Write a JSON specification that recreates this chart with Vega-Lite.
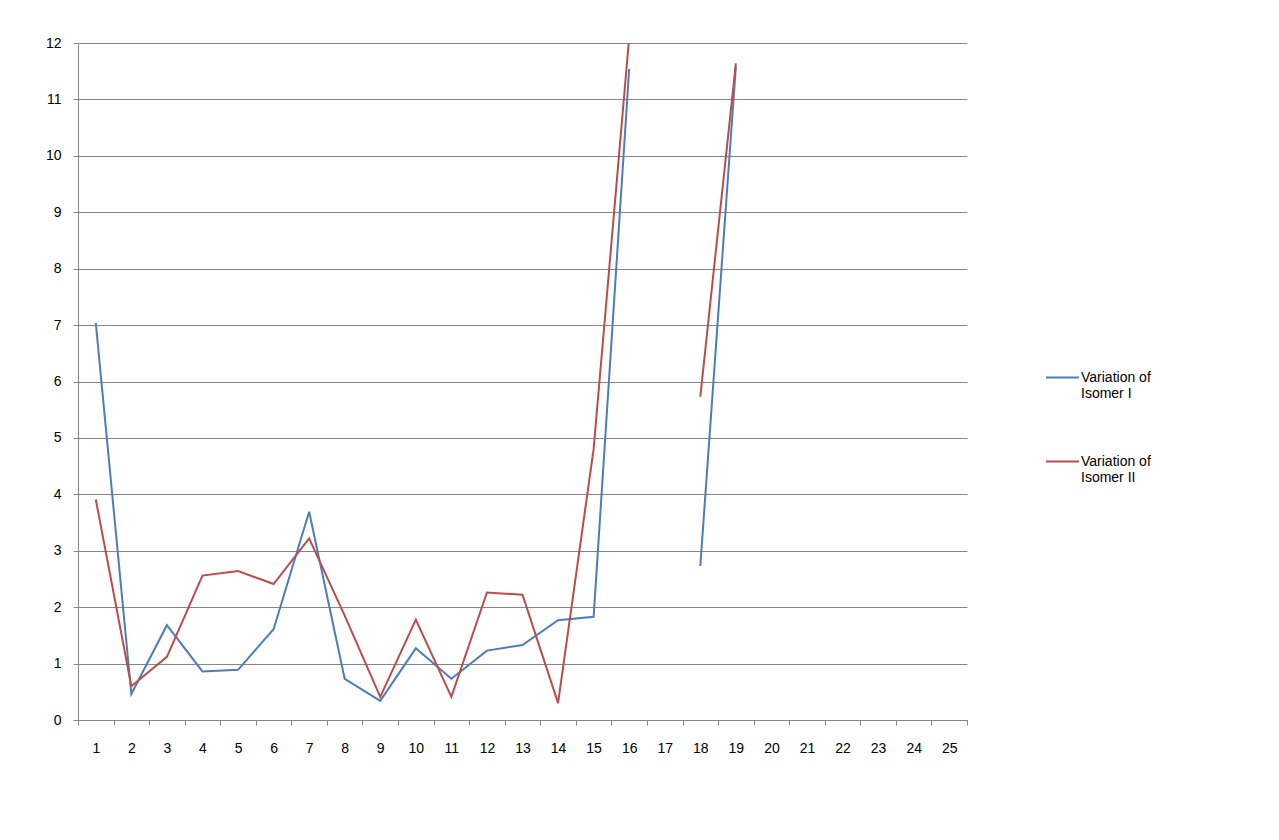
{
  "$schema": "https://vega.github.io/schema/vega-lite/v6.json",
  "width": 889,
  "height": 677,
  "autosize": {"type": "none"},
  "padding": {"left": 78, "top": 43, "right": 312, "bottom": 120},
  "background": "white",
  "config": {
    "view": {"stroke": null},
    "font": "Liberation Sans"
  },
  "data": {
    "values": [
      {"x": "1", "series": "Variation of Isomer I", "value": 7.04},
      {"x": "2", "series": "Variation of Isomer I", "value": 0.46},
      {"x": "3", "series": "Variation of Isomer I", "value": 1.68},
      {"x": "4", "series": "Variation of Isomer I", "value": 0.86},
      {"x": "5", "series": "Variation of Isomer I", "value": 0.89},
      {"x": "6", "series": "Variation of Isomer I", "value": 1.61},
      {"x": "7", "series": "Variation of Isomer I", "value": 3.69},
      {"x": "8", "series": "Variation of Isomer I", "value": 0.73},
      {"x": "9", "series": "Variation of Isomer I", "value": 0.34},
      {"x": "10", "series": "Variation of Isomer I", "value": 1.27},
      {"x": "11", "series": "Variation of Isomer I", "value": 0.73},
      {"x": "12", "series": "Variation of Isomer I", "value": 1.23},
      {"x": "13", "series": "Variation of Isomer I", "value": 1.33},
      {"x": "14", "series": "Variation of Isomer I", "value": 1.77},
      {"x": "15", "series": "Variation of Isomer I", "value": 1.83},
      {"x": "16", "series": "Variation of Isomer I", "value": 11.54},
      {"x": "17", "series": "Variation of Isomer I", "value": null},
      {"x": "18", "series": "Variation of Isomer I", "value": 2.73},
      {"x": "19", "series": "Variation of Isomer I", "value": 11.58},
      {"x": "1", "series": "Variation of Isomer II", "value": 3.91},
      {"x": "2", "series": "Variation of Isomer II", "value": 0.6},
      {"x": "3", "series": "Variation of Isomer II", "value": 1.12},
      {"x": "4", "series": "Variation of Isomer II", "value": 2.56},
      {"x": "5", "series": "Variation of Isomer II", "value": 2.64},
      {"x": "6", "series": "Variation of Isomer II", "value": 2.41},
      {"x": "7", "series": "Variation of Isomer II", "value": 3.22},
      {"x": "8", "series": "Variation of Isomer II", "value": 1.85},
      {"x": "9", "series": "Variation of Isomer II", "value": 0.41},
      {"x": "10", "series": "Variation of Isomer II", "value": 1.78},
      {"x": "11", "series": "Variation of Isomer II", "value": 0.41},
      {"x": "12", "series": "Variation of Isomer II", "value": 2.26},
      {"x": "13", "series": "Variation of Isomer II", "value": 2.22},
      {"x": "14", "series": "Variation of Isomer II", "value": 0.3},
      {"x": "15", "series": "Variation of Isomer II", "value": 4.8},
      {"x": "16", "series": "Variation of Isomer II", "value": 12.1},
      {"x": "17", "series": "Variation of Isomer II", "value": null},
      {"x": "18", "series": "Variation of Isomer II", "value": 5.73},
      {"x": "19", "series": "Variation of Isomer II", "value": 11.64}
    ]
  },
  "mark": {"type": "line", "strokeWidth": 2, "clip": true, "invalid": "break-paths-show-domains"},
  "encoding": {
    "x": {
      "field": "x",
      "type": "ordinal",
      "sort": null,
      "scale": {"domain": ["1","2","3","4","5","6","7","8","9","10","11","12","13","14","15","16","17","18","19","20","21","22","23","24","25"], "paddingInner": 0, "paddingOuter": 0},
      "axis": {
        "title": null,
        "labelAngle": 0,
        "labelFontSize": 14,
        "labelColor": "#000000",
        "labelPadding": 16,
        "tickBand": "extent",
        "tickSize": 5,
        "tickColor": "#868686",
        "domainColor": "#868686",
        "grid": false
      }
    },
    "y": {
      "field": "value",
      "type": "quantitative",
      "scale": {"domain": [0, 12], "nice": false, "zero": true},
      "axis": {
        "title": null,
        "values": [0,1,2,3,4,5,6,7,8,9,10,11,12],
        "labelFontSize": 14,
        "labelColor": "#000000",
        "labelPadding": 12,
        "tickSize": 5,
        "tickColor": "#868686",
        "domainColor": "#868686",
        "gridColor": "#868686",
        "gridOpacity": 1,
        "grid": true
      }
    },
    "color": {
      "field": "series",
      "type": "nominal",
      "scale": {"domain": ["Variation of Isomer I", "Variation of Isomer II"], "range": ["#4A7EBB", "#BE4B48"]},
      "legend": {
        "title": null,
        "orient": "none",
        "legendX": 967,
        "legendY": 317,
        "padding": 0,
        "symbolType": "stroke",
        "symbolSize": 1089,
        "symbolStrokeWidth": 2,
        "labelFontSize": 14,
        "labelColor": "#000000",
        "labelOffset": 1,
        "labelBaseline": "middle",
        "labelExpr": "split(replace(datum.label, 'Variation of ', 'Variation of|'), '|')",
        "rowPadding": 43
      }
    }
  }
}
